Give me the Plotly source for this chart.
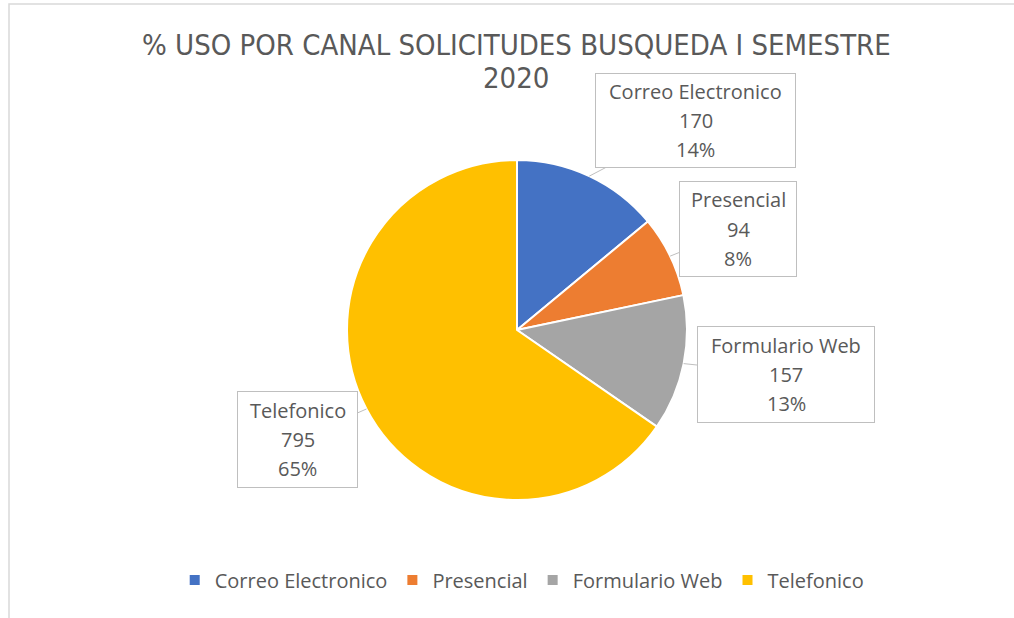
import math
import plotly.graph_objects as go

categories = ["Correo Electronico", "Presencial", "Formulario Web", "Telefonico"]
values = [170, 94, 157, 795]
colors = ["#4472C4", "#ED7D31", "#A5A5A5", "#FFC000"]
title_lines = ["% USO POR CANAL SOLICITUDES BUSQUEDA I SEMESTRE", "2020"]

W, H = 1014, 618
CX, CY, R = 517, 330, 170
# label box centres and sizes in pixels (layout only)
boxes = [(695.5, 120.5, 201, 95), (738, 229, 118, 96), (786, 374.5, 178, 97), (297.5, 439.5, 121, 97)]
TXT = "#595959"
LINEC = "#BFBFBF"
FONT = "Open Sans"


def px(x):
    return x / W


def py(y):
    return 1 - y / H


total = sum(values)
fig = go.Figure(go.Pie(
    labels=categories, values=values, sort=False, direction="clockwise", rotation=0,
    marker=dict(colors=colors, line=dict(color="white", width=2)),
    textinfo="none", hoverinfo="label+value+percent",
    domain=dict(x=[px(CX - R), px(CX + R)], y=[py(CY + R), py(CY - R)]),
))

annotations = []
cum = 0
for cat, v, (bx, by, bw, bh) in zip(categories, values, boxes):
    mid = (cum + v / 2) / total * 2 * math.pi
    cum += v
    tx = CX + R * math.sin(mid)
    ty = CY - R * math.cos(mid)
    annotations.append(dict(
        x=px(tx), y=py(ty), xref="paper", yref="paper", ax=bx - tx, ay=by - ty,
        axref="pixel", ayref="pixel", showarrow=True, arrowhead=0, arrowwidth=1,
        arrowcolor=LINEC, text=" ", width=bw - 2, height=bh - 2,
        bordercolor=LINEC, borderwidth=1, borderpad=0, bgcolor="white",
    ))
    lines = [cat, str(v), f"{round(v / total * 100)}%"]
    for i, t in enumerate(lines):
        annotations.append(dict(
            x=px(bx), y=py(by + (i - 1) * 29), xref="paper", yref="paper",
            text=t, showarrow=False, font=dict(family=FONT, size=20, color=TXT),
            xanchor="center", yanchor="middle",
        ))

for i, (t, yy) in enumerate(zip(title_lines, [45, 78])):
    annotations.append(dict(
        x=px(516), y=py(yy), xref="paper", yref="paper", text=t, showarrow=False,
        font=dict(family="Liberation Sans Narrow, DejaVu Sans Condensed, Roboto Condensed, Roboto",
                  size=29, color=TXT),
        xanchor="center", yanchor="middle",
    ))

fig.update_layout(
    width=W, height=H, margin=dict(l=0, r=0, t=0, b=0),
    paper_bgcolor="white", plot_bgcolor="white",
    showlegend=True,
    legend=dict(orientation="h", x=0.515, xanchor="center", y=py(580), yanchor="middle",
                font=dict(family=FONT, size=20, color=TXT), itemclick=False, itemdoubleclick=False),
    annotations=annotations,
    shapes=[dict(type="rect", xref="paper", yref="paper", x0=px(9), x1=1.05, y0=-0.05, y1=py(4),
                 line=dict(color="#D9D9D9", width=1.5), layer="below")],
)

fig.write_html(
    "out.html",
    config={"displayModeBar": False},
    post_script="document.body.style.margin='0';document.body.style.overflow='hidden';",
)
